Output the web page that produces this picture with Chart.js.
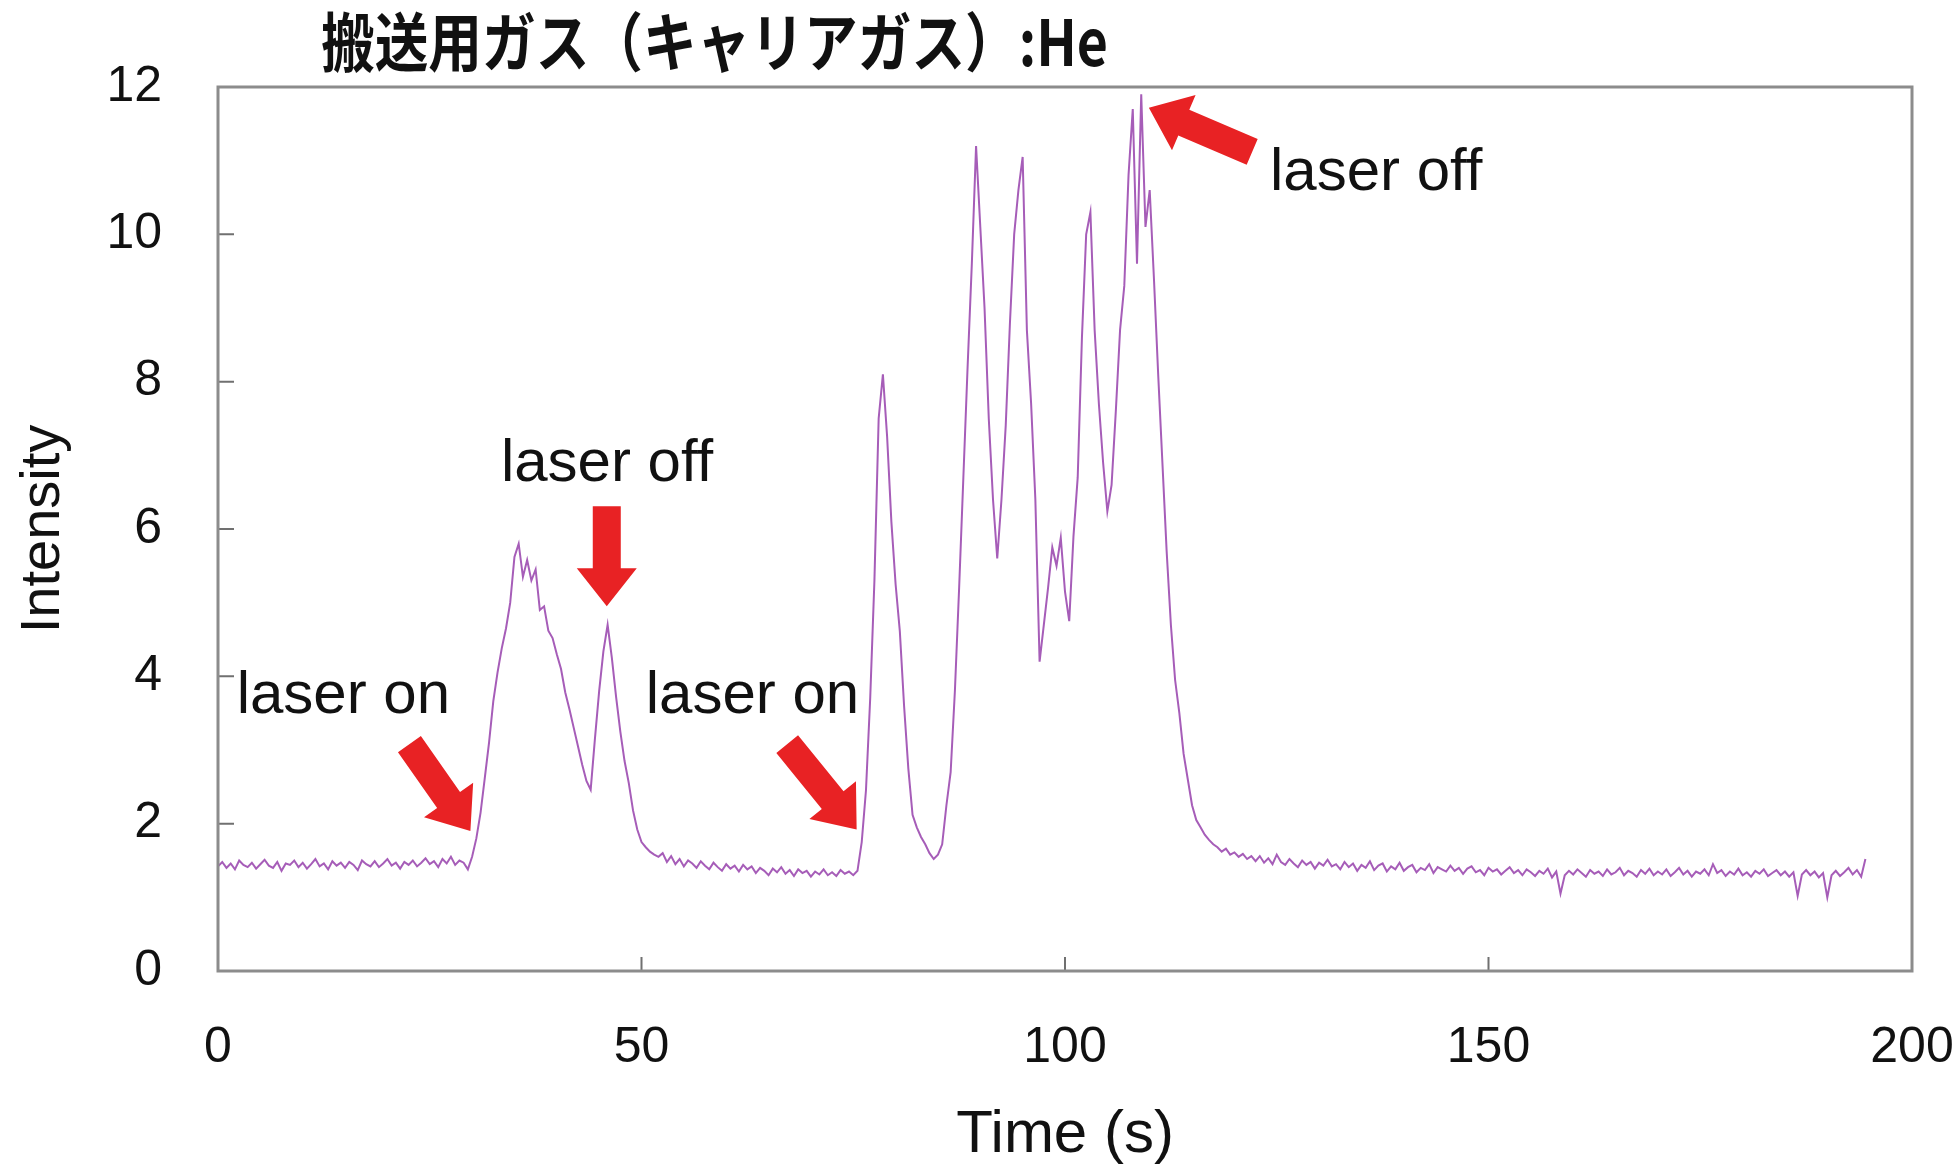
<!DOCTYPE html>
<html lang="ja">
<head>
<meta charset="utf-8">
<title>搬送用ガス（キャリアガス）:He</title>
<script src="https://cdn.jsdelivr.net/npm/chart.js@4.4.1/dist/chart.umd.min.js"></script>
<style>
  html, body { margin: 0; padding: 0; background: #fff; }
  #wrap { position: relative; width: 1953px; height: 1165px; }
</style>
</head>
<body>
<div id="wrap"><canvas id="chart"></canvas></div>
<script>
// judul & sumbu
const chartTitle = "搬送用ガス（キャリアガス）:He";
const xTitle = "Time (s)";
const yTitle = "Intensity";
const xTickValues = [0, 50, 100, 150, 200];
const yTickValues = [0, 2, 4, 6, 8, 10, 12];

// data, satu sampel tiap 0.5 s
const sampleStep = 0.5;

// 0 - 29.5 s
const quietBefore = [
  1.42, 1.48, 1.40, 1.46, 1.38, 1.50, 1.44, 1.41, 1.47, 1.39,
  1.45, 1.51, 1.43, 1.40, 1.48, 1.36, 1.46, 1.44, 1.50, 1.41,
  1.47, 1.39, 1.45, 1.52, 1.42, 1.46, 1.38, 1.49, 1.43, 1.47,
  1.40, 1.48, 1.44, 1.37, 1.50, 1.45, 1.42, 1.49, 1.41, 1.46,
  1.52, 1.43, 1.47, 1.39, 1.48, 1.44, 1.50, 1.42, 1.47, 1.53,
  1.45, 1.49, 1.41, 1.52, 1.46, 1.55, 1.44, 1.50, 1.47, 1.38
];
// 30 - 52 s (laser on pertama)
const firstRun = [
  1.55, 1.80, 2.15, 2.62, 3.10, 3.66, 4.05, 4.38, 4.65, 5.00,
  5.62, 5.80, 5.35, 5.58, 5.30, 5.45, 4.90, 4.95, 4.62, 4.52,
  4.30, 4.10, 3.78, 3.55, 3.30, 3.05, 2.80, 2.58, 2.46, 3.15,
  3.80, 4.34, 4.70, 4.25, 3.72, 3.25, 2.85, 2.55, 2.18, 1.92,
  1.75, 1.68, 1.62, 1.58, 1.55
];
// 52.5 - 75.5 s
const quietMiddle = [
  1.60, 1.48, 1.56, 1.45, 1.52, 1.42, 1.50, 1.46, 1.40, 1.49,
  1.43, 1.38, 1.47, 1.41, 1.36, 1.45, 1.39, 1.43, 1.35, 1.44,
  1.38, 1.42, 1.33, 1.40, 1.36, 1.30, 1.39, 1.34, 1.41, 1.32,
  1.37, 1.29, 1.38, 1.33, 1.36, 1.28, 1.35, 1.31, 1.38, 1.30,
  1.34, 1.29, 1.37, 1.32, 1.35, 1.30, 1.36
];
// 76 - 122 s (laser on kedua)
const secondRun = [
  1.75, 2.45, 3.70, 5.30, 7.50, 8.10, 7.25, 6.10, 5.25, 4.61,
  3.60, 2.75, 2.12, 1.95, 1.82, 1.72, 1.60, 1.52, 1.58, 1.72,
  2.25, 2.70, 3.80, 5.20, 6.70, 8.20, 9.60, 11.20, 10.10, 9.00,
  7.50, 6.40, 5.60, 6.40, 7.40, 8.80, 10.00, 10.60, 11.05, 8.70,
  7.70, 6.40, 4.20, 4.70, 5.20, 5.75, 5.50, 5.88, 5.15, 4.75,
  5.90, 6.70, 8.60, 10.00, 10.30, 8.70, 7.70, 6.90, 6.24, 6.60,
  7.60, 8.70, 9.30, 10.80, 11.70, 9.60, 11.90, 10.10, 10.60, 9.40,
  8.10, 6.90, 5.70, 4.70, 3.95, 3.50, 2.95, 2.60, 2.25, 2.05,
  1.95, 1.85, 1.78, 1.72, 1.68, 1.62, 1.66, 1.58, 1.61, 1.55,
  1.59, 1.52, 1.56
];
// 122.5 - 194.5 s
const quietAfter = [
  1.49, 1.56, 1.47, 1.53, 1.45, 1.58, 1.48, 1.44, 1.52, 1.46,
  1.41, 1.50, 1.44, 1.48, 1.39, 1.47, 1.43, 1.51, 1.42, 1.45,
  1.38, 1.48, 1.41, 1.46, 1.36, 1.44, 1.40, 1.49, 1.37, 1.43,
  1.46, 1.35, 1.42, 1.38, 1.47, 1.36, 1.41, 1.44, 1.34, 1.40,
  1.37, 1.45, 1.33, 1.41, 1.38, 1.35, 1.43, 1.36, 1.40, 1.32,
  1.39, 1.42, 1.34, 1.37, 1.30, 1.40, 1.35, 1.38, 1.31, 1.36,
  1.41, 1.33, 1.37, 1.30, 1.38, 1.34, 1.29, 1.36, 1.32, 1.39,
  1.27, 1.35, 1.05, 1.30, 1.36, 1.31, 1.38, 1.33, 1.28, 1.37,
  1.32, 1.35, 1.29, 1.38, 1.31, 1.34, 1.40, 1.30, 1.36, 1.33,
  1.28, 1.37, 1.32, 1.39, 1.30, 1.35, 1.31, 1.38, 1.29, 1.34,
  1.40, 1.31, 1.36, 1.28, 1.35, 1.32, 1.38, 1.30, 1.45, 1.33,
  1.37, 1.29, 1.35, 1.31, 1.39, 1.30, 1.34, 1.28, 1.36, 1.32,
  1.38, 1.29, 1.33, 1.37, 1.30, 1.35, 1.28, 1.34, 1.02, 1.31,
  1.37, 1.30, 1.35, 1.27, 1.33, 1.00, 1.30, 1.36, 1.29, 1.34,
  1.40, 1.31, 1.37, 1.28, 1.52
];

// anotasi (koordinat data: detik, intensitas)
const noteTexts = ["laser on", "laser off", "laser on", "laser off"];
const noteSpots = [[2.2, 3.5], [33.4, 6.65], [50.5, 3.5], [124.2, 10.6]];
const arrowTails = [[22.6, 3.08], [45.9, 6.31], [67.2, 3.08], [122.1, 11.12]];
const arrowTips = [[29.8, 1.9], [45.9, 4.95], [75.4, 1.92], [109.9, 11.72]];

const intensity = [].concat(quietBefore, firstRun, quietMiddle, secondRun, quietAfter);
const points = intensity.map((v, i) => ({ x: i * sampleStep, y: v }));

const fontFamily = '"Liberation Sans", Arial, Helvetica, sans-serif';

function drawArrow(ctx, x0, y0, x1, y1) {
  const dx = x1 - x0, dy = y1 - y0;
  const len = Math.hypot(dx, dy);
  const ux = dx / len, uy = dy / len;
  const nx = -uy, ny = ux;
  const shaft = 14, head = 30, headLen = 38;
  const bx = x1 - ux * headLen, by = y1 - uy * headLen;
  ctx.beginPath();
  ctx.moveTo(x0 + nx * shaft, y0 + ny * shaft);
  ctx.lineTo(bx + nx * shaft, by + ny * shaft);
  ctx.lineTo(bx + nx * head, by + ny * head);
  ctx.lineTo(x1, y1);
  ctx.lineTo(bx - nx * head, by - ny * head);
  ctx.lineTo(bx - nx * shaft, by - ny * shaft);
  ctx.lineTo(x0 - nx * shaft, y0 - ny * shaft);
  ctx.closePath();
  ctx.fill();
}

// kotak plot + tick ke dalam
const boxPlugin = {
  id: "box",
  afterDatasetsDraw(chart) {
    const { ctx, chartArea: a, scales } = chart;
    ctx.save();
    ctx.strokeStyle = "#707070";
    ctx.lineWidth = 2;
    ctx.beginPath();
    scales.y.ticks.forEach((t) => {
      const py = scales.y.getPixelForValue(t.value);
      ctx.moveTo(a.left, py);
      ctx.lineTo(a.left + 16, py);
    });
    scales.x.ticks.forEach((t) => {
      const px = scales.x.getPixelForValue(t.value);
      ctx.moveTo(px, a.bottom);
      ctx.lineTo(px, a.bottom - 14);
    });
    ctx.stroke();
    ctx.strokeStyle = "#8c8c8c";
    ctx.lineWidth = 3;
    ctx.strokeRect(a.left, a.top, a.right - a.left, a.bottom - a.top);
    ctx.restore();
  },
};

const notePlugin = {
  id: "notes",
  afterDatasetsDraw(chart) {
    const { ctx, scales } = chart;
    const { x, y } = scales;
    ctx.save();
    ctx.fillStyle = "#e82224";
    arrowTails.forEach((tail, i) => {
      const tip = arrowTips[i];
      drawArrow(
        ctx,
        x.getPixelForValue(tail[0]), y.getPixelForValue(tail[1]),
        x.getPixelForValue(tip[0]), y.getPixelForValue(tip[1])
      );
    });
    ctx.fillStyle = "#111";
    ctx.font = "60px " + fontFamily;
    ctx.textAlign = "left";
    ctx.textBaseline = "alphabetic";
    noteTexts.forEach((txt, i) => {
      ctx.fillText(txt, x.getPixelForValue(noteSpots[i][0]), y.getPixelForValue(noteSpots[i][1]));
    });
    ctx.restore();
  },
};

// judul huruf sempit
const headingPlugin = {
  id: "heading",
  afterDraw(chart) {
    const ctx = chart.ctx;
    ctx.save();
    ctx.font = 'bold 64px "Noto Sans CJK JP", sans-serif';
    ctx.fillStyle = "#111";
    ctx.textBaseline = "middle";
    const w = ctx.measureText(chartTitle).width;
    ctx.translate(321, 42);
    ctx.scale(787 / w, 1);
    ctx.fillText(chartTitle, 0, 0);
    ctx.restore();
  },
};

new Chart(document.getElementById("chart"), {
  type: "line",
  data: {
    datasets: [
      {
        data: points,
        borderColor: "#a65db8",
        borderWidth: 2,
        pointRadius: 0,
        tension: 0,
        fill: false,
      },
    ],
  },
  options: {
    responsive: true,
    maintainAspectRatio: false,
    animation: false,
    devicePixelRatio: 1,
    layout: { padding: { top: 87, right: 0, left: 0, bottom: 0 } },
    plugins: {
      legend: { display: false },
      tooltip: { enabled: false },
      title: { display: false },
    },
    scales: {
      x: {
        type: "linear",
        min: 0,
        max: 200,
        afterBuildTicks: (s) => {
          s.ticks = xTickValues.map((v) => ({ value: v }));
        },
        afterFit: (s) => {
          s.height = 194;
          // padding label kanan diatur manual supaya kotak plot sampai x=1912
          s.paddingLeft = 0;
          s.paddingRight = 41;
        },
        grid: { display: false, drawTicks: false },
        border: { display: false },
        ticks: {
          font: { size: 50, family: fontFamily },
          color: "#111",
          padding: 47,
          maxRotation: 0,
          autoSkip: false,
        },
        title: {
          display: true,
          text: xTitle,
          color: "#111",
          font: { size: 60, family: fontFamily, lineHeight: 1 },
          padding: { top: 0, bottom: 0 },
        },
      },
      y: {
        min: 0,
        max: 12,
        afterBuildTicks: (s) => {
          s.ticks = yTickValues.map((v) => ({ value: v }));
        },
        afterFit: (s) => {
          s.width = 218;
        },
        grid: { display: false, drawTicks: false },
        border: { display: false },
        ticks: {
          font: { size: 50, family: fontFamily },
          color: "#111",
          padding: 56,
          autoSkip: false,
        },
        title: {
          display: true,
          text: yTitle,
          color: "#111",
          font: { size: 56, family: fontFamily, lineHeight: 1 },
          padding: { top: 16, bottom: 0 },
        },
      },
    },
  },
  plugins: [boxPlugin, notePlugin, headingPlugin],
});
</script>
</body>
</html>
